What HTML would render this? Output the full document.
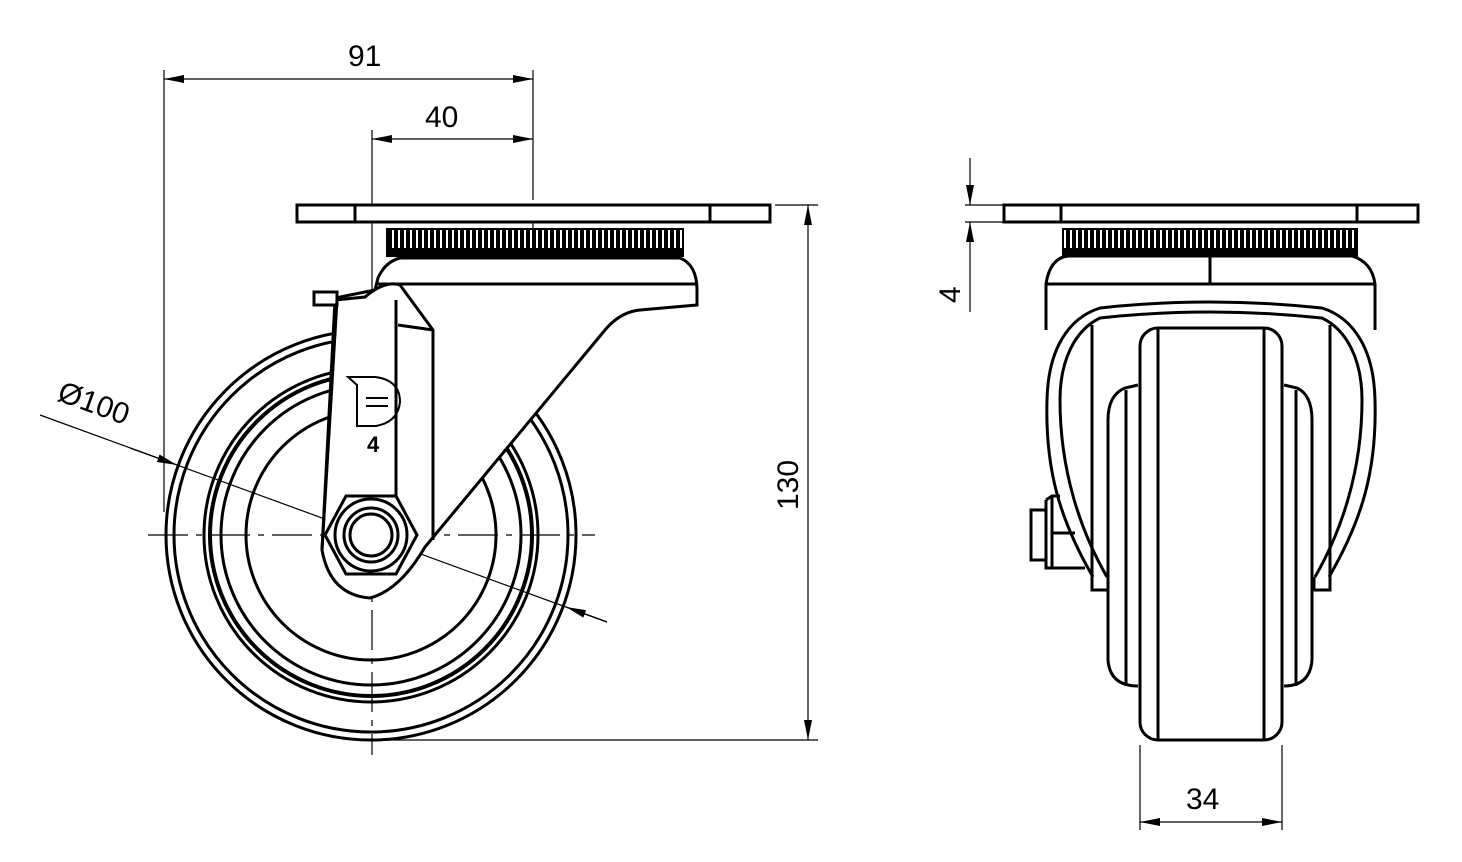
<!DOCTYPE html>
<html><head><meta charset="utf-8"><style>
html,body{margin:0;padding:0;background:#fff}
svg{display:block}
text{font-family:"Liberation Sans",sans-serif;font-size:30px;fill:#000;font-weight:normal}
</style></head><body>
<svg width="1462" height="862" viewBox="0 0 1462 862" xmlns="http://www.w3.org/2000/svg">
<defs>
<marker id="a" viewBox="0 0 20 8" refX="20" refY="4" markerWidth="20" markerHeight="8" orient="auto-start-reverse" markerUnits="userSpaceOnUse"><path d="M0,0 L20,4 L0,8 Z" fill="#000"/></marker>
<pattern id="kn" width="6" height="28" patternUnits="userSpaceOnUse"><rect width="6" height="28" fill="#000"/><rect x="2" y="4" width="2" height="20" fill="#fff"/></pattern>
</defs>
<g fill="none" stroke="#000" stroke-width="1.2">
<line x1="164" y1="70" x2="164" y2="512"/>
<line x1="533" y1="70" x2="533" y2="200"/>
<line x1="372" y1="130" x2="372" y2="300"/>
<line x1="164" y1="79" x2="533" y2="79" marker-start="url(#a)" marker-end="url(#a)"/>
<line x1="372" y1="139" x2="533" y2="139" marker-start="url(#a)" marker-end="url(#a)"/>
<line x1="775" y1="205" x2="818" y2="205"/>
<line x1="380" y1="740" x2="818" y2="740"/>
<line x1="808" y1="205" x2="808" y2="740" marker-start="url(#a)" marker-end="url(#a)"/>
<line x1="533" y1="220" x2="533" y2="400" stroke-dasharray="40,8,6,8"/>
<line x1="372" y1="300" x2="372" y2="755" stroke-dasharray="40,8,6,8"/>
<line x1="148" y1="535" x2="595" y2="535" stroke-dasharray="40,8,6,8"/>
<line x1="40" y1="415" x2="607" y2="622"/>
<line x1="130" y1="448" x2="177" y2="465" marker-end="url(#a)"/>
<line x1="607" y1="622" x2="566" y2="607" marker-end="url(#a)"/>
<line x1="965" y1="205" x2="1005" y2="205"/>
<line x1="965" y1="222" x2="1005" y2="222"/>
<line x1="970" y1="158" x2="970" y2="205" marker-end="url(#a)"/>
<line x1="970" y1="312" x2="970" y2="222" marker-end="url(#a)"/>
<line x1="1140" y1="745" x2="1140" y2="830"/>
<line x1="1282" y1="745" x2="1282" y2="830"/>
<line x1="1140" y1="822" x2="1282" y2="822" marker-start="url(#a)" marker-end="url(#a)"/>
</g>
<text x="348" y="66">91</text>
<text x="425" y="127">40</text>
<text x="1186" y="809">34</text>
<text transform="translate(798,510) rotate(-90)">130</text>
<text transform="translate(960,303) rotate(-90)">4</text>
<text transform="translate(56,400) rotate(20)">Ø100</text>

<g fill="none" stroke="#000" stroke-width="3">
<circle cx="371" cy="535" r="205"/>
<circle cx="371" cy="535" r="197"/>
<circle cx="371" cy="535" r="167"/>
<circle cx="371" cy="535" r="161" stroke-width="4"/>
<circle cx="371" cy="535" r="150"/>
<circle cx="371" cy="535" r="125"/>
<path fill="#fff" d="M335,300 L340,297 L375,290 L378,278 Q385,262 400,258 L680,258 Q697,265 697,290 L697,305 L640,310 Q620,312 605,330 L425,547 Q400,590 370,598 Q330,595 322,550 Z"/>
<line x1="378" y1="284" x2="697" y2="284"/>
<path fill="#fff" d="M335,300 L365,297 Q385,280 400,285 L433,330 L433,540"/>
<line x1="398" y1="325" x2="433" y2="330"/>
<line x1="396" y1="300" x2="396" y2="545"/>
<path d="M314,292 L337,292 L337,305 L314,305 Z" fill="#fff"/>
<path d="M337,300 L322,550"/>
<polygon fill="#fff" points="346,496 396,496 417,535 396,574 346,574 325,535"/>
<circle cx="371" cy="535" r="36"/>
<circle cx="371" cy="535" r="27"/>
<circle cx="371" cy="535" r="21"/>
<rect x="297" y="205" width="473" height="17" fill="#fff"/>
<line x1="355" y1="205" x2="355" y2="222"/>
<line x1="710" y1="205" x2="710" y2="222"/>
<rect x="387" y="229" width="296" height="27" fill="url(#kn)" stroke-width="2"/>
<path stroke-width="2" d="M348,377 L375,377 Q400,380 400,402 Q398,422 376,426 L357,426 L357,385 Z"/>
<line x1="366" y1="398" x2="388" y2="398" stroke-width="2"/>
<line x1="366" y1="406" x2="388" y2="406" stroke-width="2"/>
</g>
<text x="367" y="452" style="font-size:22px;font-weight:bold">4</text>

<g fill="none" stroke="#000" stroke-width="3">
<rect x="1004" y="205" width="414" height="17"/>
<line x1="1061" y1="205" x2="1061" y2="222"/>
<line x1="1357" y1="205" x2="1357" y2="222"/>
<rect x="1063" y="229" width="294" height="27" fill="url(#kn)" stroke-width="2"/>
<path d="M1046,330 L1046,284 Q1050,258 1068,256 L1352,256 Q1372,262 1375,284 L1375,330"/>
<line x1="1046" y1="284" x2="1375" y2="284"/>
<line x1="1210" y1="256" x2="1210" y2="284"/>
<!-- fork legs -->
<path d="M1093,577 C1060,520 1045,470 1047,400 C1048,350 1068,318 1100,308 Q1210,296 1322,308 C1354,318 1374,350 1375,400 C1377,470 1362,520 1329,577"/>
<path d="M1107,577 C1080,530 1060,470 1060,400 C1060,360 1075,330 1100,318 Q1210,306 1322,318 C1347,330 1362,360 1362,400 C1362,470 1342,530 1315,577"/>
<path d="M1092,325 L1092,590 L1108,590 L1108,577 M1330,325 L1330,590 L1314,590 L1314,577"/>
<path d="M1138,385 L1125,388 Q1108,395 1108,420 L1108,660 Q1110,686 1138,686"/>
<line x1="1126" y1="390" x2="1126" y2="686"/>
<path d="M1284,385 L1297,388 Q1312,395 1312,420 L1312,660 Q1310,686 1284,686"/>
<line x1="1296" y1="390" x2="1296" y2="686"/>
<rect x="1140" y="328" width="142" height="412" rx="18" fill="#fff"/>
<line x1="1158" y1="328" x2="1158" y2="740"/>
<line x1="1264" y1="328" x2="1264" y2="740"/>
<path d="M1046,500 L1052,496 L1060,496 M1046,500 L1046,568 L1085,568"/>
<rect x="1031" y="510" width="15" height="50"/>
<line x1="1052" y1="496" x2="1052" y2="568"/>
<line x1="1052" y1="533" x2="1075" y2="533"/>
</g>
</svg>
</body></html>
